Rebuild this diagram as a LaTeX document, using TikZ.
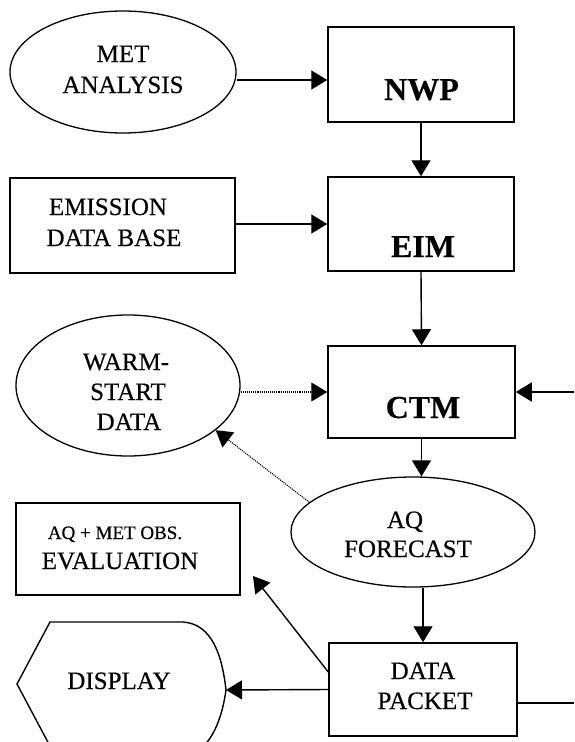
\documentclass[tikz,border=0pt]{standalone}
\usepackage{fontspec}
\setmainfont{Liberation Serif}[FakeBold=0.4]
\newfontfamily\heavyserif{Liberation Serif}[BoldFeatures={FakeBold=0.3}]
\usetikzlibrary{shapes.geometric,arrows.meta,calc}
\begin{document}
\begin{tikzpicture}[x=1pt,y=-1pt,
 box/.style={draw, line width=1.5pt, rectangle, inner sep=0},
 oval/.style={draw, line width=1.3pt, ellipse, inner sep=0},
 arr/.style={line width=1.4pt, -{Triangle[length=16pt,width=19pt]}},
 dotarr/.style={line width=1.1pt, densely dotted, -{Triangle[length=16pt,width=19pt]}},
 lbl/.style={anchor=base, inner sep=0, font=\fontsize{25}{30}\selectfont},
 blbl/.style={anchor=base, inner sep=0, font=\heavyserif\fontsize{32}{38}\selectfont\bfseries},
 slbl/.style={anchor=base, inner sep=0, font=\fontsize{19}{22}\selectfont}]
\useasboundingbox (0,0) rectangle (574,742);

% shapes
\node[oval, minimum width=226pt, minimum height=122pt] (met) at (123,72) {};
\node[box, minimum width=186pt, minimum height=95pt] (nwp) at (421,74.5) {};
\node[box, minimum width=225pt, minimum height=95pt] (emis) at (122.5,225.5) {};
\node[box, minimum width=186pt, minimum height=94pt] (eim) at (421,224) {};
\node[oval, minimum width=224pt, minimum height=141pt] (warm) at (128,385.5) {};
\node[box, minimum width=187pt, minimum height=92pt] (ctm) at (421.5,392) {};
\node[oval, minimum width=244pt, minimum height=110pt] (aq) at (413,532) {};
\node[box, minimum width=224pt, minimum height=92pt] (eval) at (128,549) {};
\node[box, minimum width=188pt, minimum height=93pt] (data) at (423,689.5) {};
\draw[line width=1.4pt] (50,746) -- (17,684) -- (50,622) -- (183,622)
  .. controls (212,624) and (222,655) .. (226,690)
  .. controls (222,718) and (214,736) .. (202,748);
\coordinate (disp) at (226,690);

% labels
\node[lbl] (tmet1) at (123,62) {MET};
\node[lbl] (tmet2) at (123,93) {ANALYSIS};
\node[blbl] (tnwp) at (421.5,100) {NWP};
\node[lbl] (temis1) at (108,215) {EMISSION};
\node[lbl] (temis2) at (114,246) {DATA BASE};
\node[blbl] (teim) at (423,257) {EIM};
\node[lbl] (twarm1) at (126,370) {WARM-};
\node[lbl] (twarm2) at (128,400) {START};
\node[lbl] (twarm3) at (129,430) {DATA};
\node[blbl] (tctm) at (423,418) {CTM};
\node[lbl] (taq1) at (405,528) {AQ};
\node[lbl] (taq2) at (408,557) {FORECAST};
\node[slbl] (tev1) at (115,539) {AQ + MET OBS.};
\node[lbl] (tev2) at (120,569) {EVALUATION};
\node[lbl] (tdata1) at (423,679) {DATA};
\node[lbl] (tdata2) at (425,709) {PACKET};
\node[lbl] (tdisp) at (119,689) {DISPLAY};

% free ends
\coordinate (ctmin) at (574,392);
\coordinate (dataout) at (574,703);
\coordinate (evaltip) at (253,576);
\coordinate (metout) at ($(met.east)+(0,8)$);
\coordinate (dataevl) at ($(data.west)+(0,-17.5)$);
\coordinate (dataout0) at ($(data.east)+(0,13.5)$);

% connectors
\draw[arr] (metout) -- (metout -| nwp.west);
\draw[arr] (nwp.south) -- (eim.north);
\draw[arr] (emis.east |- eim.west) -- (eim.west);
\draw[arr] (eim.south) -- (ctm.north);
\draw[dotarr] (warm.east |- ctm.west) -- (ctm.west);
\draw[arr] (ctmin) -- (ctm.east);
\draw[arr] (ctm.south) -- (ctm.south |- aq.north);
\draw[dotarr] (aq.164) -- (warm.-27);
\draw[arr] (data.north |- aq.south) -- (data.north);
\draw[arr] (dataevl) -- (evaltip);
\draw[arr] (data.west) -- (disp);
\draw[line width=1.4pt] (dataout0) -- (dataout);
\end{tikzpicture}
\end{document}
